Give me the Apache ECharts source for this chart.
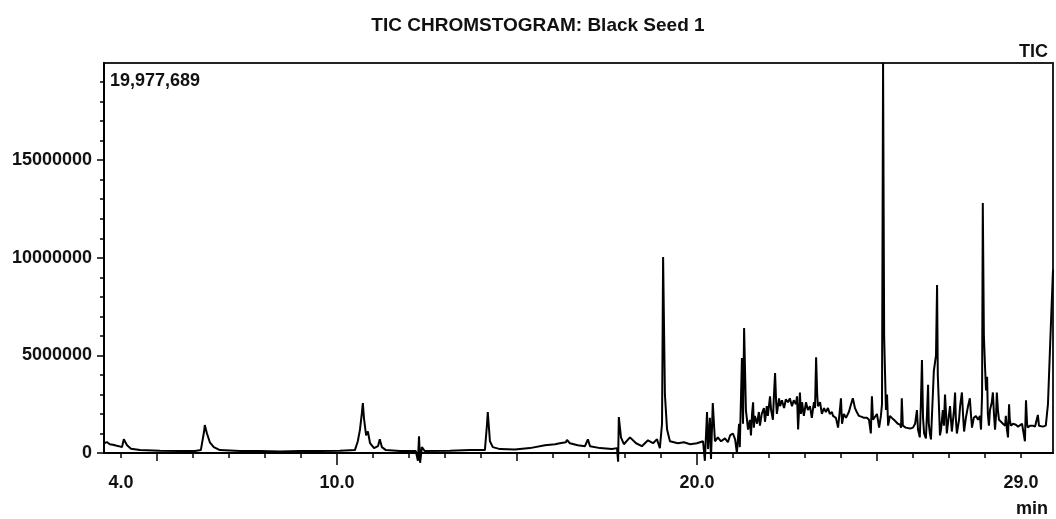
<!DOCTYPE html>
<html>
<head>
<meta charset="utf-8">
<script src="https://cdn.jsdelivr.net/npm/echarts@6/dist/echarts.min.js"></script>
<style>
  html, body { margin: 0; padding: 0; background: #fff; }
  #chart { width: 1056px; height: 519px; }
</style>
</head>
<body>
<div id="chart"></div>
<script>
// retention time (min) and TIC intensity (millions of counts)
const retentionTime = [
  3.53, 3.61, 3.69, 3.78, 3.86, 3.94, 4.03, 4.08, 4.17, 4.28, 4.53, 5.08, 5.64, 6.06, 6.22, 6.31, 6.33, 6.39, 6.47, 6.58,
  6.75, 7.31, 7.86, 8.42, 8.97, 9.53, 10.08, 10.50, 10.58, 10.64, 10.69, 10.72, 10.75, 10.81, 10.86, 10.92, 11.03, 11.14, 11.19, 11.25,
  11.36, 11.75, 12.19, 12.25, 12.28, 12.31, 12.36, 12.44, 13.14, 13.69, 14.11, 14.17, 14.19, 14.25, 14.33, 14.53, 14.94, 15.36, 15.78, 16.06,
  16.19, 16.36, 16.39, 16.47, 16.69, 16.89, 16.97, 17.03, 17.31, 17.64, 17.78, 17.81, 17.83, 17.89, 17.97, 18.14, 18.31, 18.47, 18.64, 18.78,
  18.89, 18.97, 19.03, 19.06, 19.11, 19.17, 19.25, 19.47, 19.64, 19.81, 20.00, 20.17, 20.22, 20.28, 20.31, 20.36, 20.39, 20.44, 20.50, 20.58,
  20.67, 20.78, 20.86, 20.92, 21.00, 21.06, 21.11, 21.17, 21.19, 21.25, 21.28, 21.31, 21.36,
  21.42, 21.47, 21.50, 21.53, 21.56, 21.58, 21.61, 21.67, 21.72, 21.75, 21.80, 21.86, 21.89, 21.94, 21.97, 22.03, 22.06, 22.11, 22.14, 22.17,
  22.20, 22.22, 22.28, 22.31, 22.36, 22.42, 22.47, 22.53, 22.58, 22.64, 22.69, 22.75, 22.78, 22.81, 22.86, 22.89, 22.92, 22.97, 23.03, 23.08,
  23.14, 23.19, 23.25, 23.28, 23.31, 23.34, 23.36, 23.42, 23.47, 23.53, 23.58, 23.64, 23.69, 23.75, 23.78, 23.86, 23.92, 23.97, 24.00, 24.03,
  24.08, 24.14, 24.22, 24.28, 24.33, 24.39, 24.44, 24.50, 24.58, 24.64, 24.72, 24.78, 24.83, 24.86, 24.89, 24.94, 25.00, 25.06, 25.11, 25.14,
  25.17, 25.20, 25.22, 25.25, 25.28, 25.31, 25.36, 25.44, 25.50, 25.58, 25.64, 25.67, 25.69, 25.72, 25.80, 25.92, 26.00, 26.06, 26.11, 26.14,
  26.19, 26.22, 26.25, 26.28, 26.31, 26.36, 26.39, 26.42, 26.44, 26.47, 26.50, 26.53, 26.58, 26.64, 26.67, 26.69, 26.72, 26.75, 26.78, 26.83,
  26.86, 26.89, 26.92, 26.94, 26.99, 27.03, 27.06, 27.08, 27.14, 27.17, 27.19, 27.22, 27.28, 27.31, 27.36, 27.39, 27.42, 27.47, 27.53, 27.58,
  27.61, 27.64, 27.69, 27.75, 27.81, 27.86, 27.89, 27.92, 27.94, 27.97, 28.00, 28.03, 28.06, 28.08, 28.11, 28.14, 28.19, 28.22, 28.25, 28.28,
  28.31, 28.33, 28.36, 28.39, 28.44, 28.50, 28.56, 28.58, 28.61, 28.64, 28.67, 28.69, 28.72, 28.78, 28.86, 28.92, 28.97, 29.03, 29.08, 29.11,
  29.14, 29.17, 29.19, 29.25, 29.33, 29.39, 29.44, 29.47, 29.50, 29.53, 29.61, 29.69, 29.75, 29.81, 29.89
];
const intensityM = [
  0.50, 0.56, 0.45, 0.42, 0.38, 0.35, 0.30, 0.70, 0.40, 0.22, 0.15, 0.12, 0.10, 0.10, 0.15, 1.10, 1.43, 1.00, 0.55, 0.30,
  0.15, 0.10, 0.10, 0.08, 0.10, 0.10, 0.12, 0.15, 0.60, 1.20, 2.00, 2.56, 1.80, 0.90, 1.10, 0.50, 0.25, 0.35, 0.70, 0.30,
  0.15, 0.10, 0.10, -0.40, 0.85, -0.50, 0.30, 0.10, 0.12, 0.15, 0.15, 1.50, 2.10, 0.60, 0.30, 0.20, 0.18, 0.25, 0.40, 0.45,
  0.50, 0.55, 0.67, 0.50, 0.40, 0.35, 0.70, 0.35, 0.25, 0.20, 0.25, -0.45, 1.84, 0.80, 0.45, 0.80, 0.50, 0.35, 0.65, 0.50,
  0.70, 0.25, 1.50, 10.04, 3.00, 1.20, 0.60, 0.50, 0.55, 0.45, 0.50, 0.60, -0.40, 2.10, 0.20, 1.80, -0.30, 2.56, 0.60, 0.80,
  0.60, 0.75, 0.55, 0.90, 1.00, 0.70, 0.00, 1.50, 0.30, 4.86, 1.50, 6.40, 2.20,
  1.20, 1.70, 0.90, 2.00, 2.60, 1.30, 1.90, 1.50, 2.10, 1.40, 2.00, 2.30, 1.60, 2.40, 1.90, 2.90, 2.20, 1.70, 3.00, 4.10,
  2.60, 2.00, 2.80, 2.40, 2.70, 2.30, 2.75, 2.60, 2.80, 2.40, 2.70, 2.50, 2.90, 1.20, 3.10, 2.00, 2.60, 1.90, 2.60, 2.20,
  2.40, 1.80, 2.60, 2.30, 4.90, 3.00, 2.40, 2.60, 2.00, 2.30, 2.10, 2.30, 2.00, 2.10, 1.90, 1.80, 1.30, 2.20, 2.80, 1.50,
  2.00, 1.80, 2.10, 2.50, 2.80, 2.30, 2.10, 1.90, 1.85, 1.80, 1.80, 1.70, 1.00, 2.90, 1.70, 1.60, 2.00, 1.30, 1.90, 2.50,
  19.977689, 6.00, 4.40, 2.20, 3.00, 1.40, 1.90, 1.75, 1.65, 1.50, 1.45, 1.30, 2.80, 1.40, 1.30, 1.25, 1.30, 1.50, 2.20, 1.20,
  0.80, 2.50, 4.76, 1.80, 1.00, 0.75, 2.00, 3.50, 1.50, 1.00, 0.70, 2.00, 4.20, 5.00, 8.60, 4.00, 2.50, 0.90, 1.20, 2.20,
  1.40, 3.00, 2.00, 1.00, 1.80, 2.40, 1.60, 1.10, 2.20, 3.10, 1.80, 1.00, 1.70, 2.40, 3.10, 2.00, 1.10, 1.80, 2.40, 2.80,
  2.00, 1.30, 1.80, 1.90, 1.70, 1.90, 1.20, 3.00, 12.80, 6.00, 4.50, 3.20, 3.90, 2.00, 1.40, 2.20, 2.60, 3.10, 2.00, 1.20,
  2.00, 3.10, 2.20, 1.70, 1.60, 1.50, 1.40, 1.90, 1.20, 0.80, 2.50, 1.70, 1.40, 1.50, 1.45, 1.35, 1.30, 1.50, 1.60, 0.60,
  2.70, 1.50, 1.30, 1.40, 1.40, 1.35, 1.30, 1.95, 1.40, 1.35, 1.35, 1.40, 2.50, 5.50, 9.40
];

const xLabelValues = [4, 10, 20, 29];
const xMajorTicks = [10, 20];
const xMidTicks = [5, 15, 25];
const xMinorTicks = [4, 6, 7, 8, 9, 11, 12, 13, 14, 16, 17, 18, 19, 21, 22, 23, 24, 26, 27, 28, 29];
const yLabelValues = [0, 5000000, 10000000, 15000000];
const yMinorTicks = [1e6, 2e6, 3e6, 4e6, 6e6, 7e6, 8e6, 9e6, 11e6, 12e6, 13e6, 14e6, 16e6, 17e6, 18e6, 19e6];
const yTop = 19977689;

const xMin = 3.53, xMax = 29.89;
const font = "'Liberation Sans', Arial, sans-serif";

const chart = echarts.init(document.getElementById('chart'));

const seriesData = retentionTime.map((t, i) => [t, intensityM[i] * 1e6]);

function tickAxis(values, len, withLine) {
  return {
    type: 'value', gridIndex: 0, position: 'bottom', min: xMin, max: xMax,
    axisLine: { show: !!withLine, lineStyle: { color: '#000', width: 2 } },
    axisTick: { show: true, customValues: values, length: len, lineStyle: { color: '#000', width: 1.5 } },
    axisLabel: { show: false },
    splitLine: { show: false }
  };
}

const mainX = tickAxis(xMajorTicks, 12, true);
mainX.axisLabel = {
  show: true, customValues: xLabelValues, margin: 21,
  formatter: v => Number(v).toFixed(1),
  color: '#111', fontFamily: font, fontWeight: 'bold', fontSize: 18
};

chart.setOption({
  animation: false,
  backgroundColor: '#fff',
  title: [
    { text: 'TIC CHROMSTOGRAM: Black Seed 1', left: 533, top: 11, textAlign: 'center',
      textStyle: { fontFamily: font, fontWeight: 'bold', fontSize: 19, color: '#111' } },
    { text: 'TIC', right: 3, top: 38,
      textStyle: { fontFamily: font, fontWeight: 'bold', fontSize: 18, color: '#111' } },
    { text: 'min', right: 3, top: 495,
      textStyle: { fontFamily: font, fontWeight: 'bold', fontSize: 18, color: '#111' } },
    { text: '19,977,689', left: 105, top: 67,
      textStyle: { fontFamily: font, fontWeight: 'bold', fontSize: 18, color: '#111' } }
  ],
  grid: {
    left: 104, right: 3, top: 63, bottom: 66,
    outerBoundsMode: 'none',
    show: true, borderColor: '#222', borderWidth: 2, backgroundColor: 'transparent'
  },
  xAxis: [mainX, tickAxis(xMidTicks, 8), tickAxis(xMinorTicks, 5)],
  yAxis: [
    {
      type: 'value', min: 0, max: yTop,
      axisLine: { show: true, lineStyle: { color: '#000', width: 2 } },
      axisTick: { show: true, customValues: yLabelValues, length: 7, lineStyle: { color: '#000', width: 1.5 } },
      axisLabel: {
        customValues: yLabelValues, margin: 12, formatter: v => String(v),
        color: '#111', fontFamily: font, fontWeight: 'bold', fontSize: 18
      },
      splitLine: { show: false }
    },
    {
      type: 'value', min: 0, max: yTop, position: 'left',
      axisLine: { show: false },
      axisTick: { show: true, customValues: yMinorTicks, length: 4, lineStyle: { color: '#000', width: 1.5 } },
      axisLabel: { show: false },
      splitLine: { show: false }
    }
  ],
  series: [{
    type: 'line',
    xAxisIndex: 0, yAxisIndex: 0,
    data: seriesData,
    showSymbol: false,
    clip: false,
    sampling: null,
    lineStyle: { color: '#000', width: 2 },
    z: 3
  }]
});
</script>
</body>
</html>
